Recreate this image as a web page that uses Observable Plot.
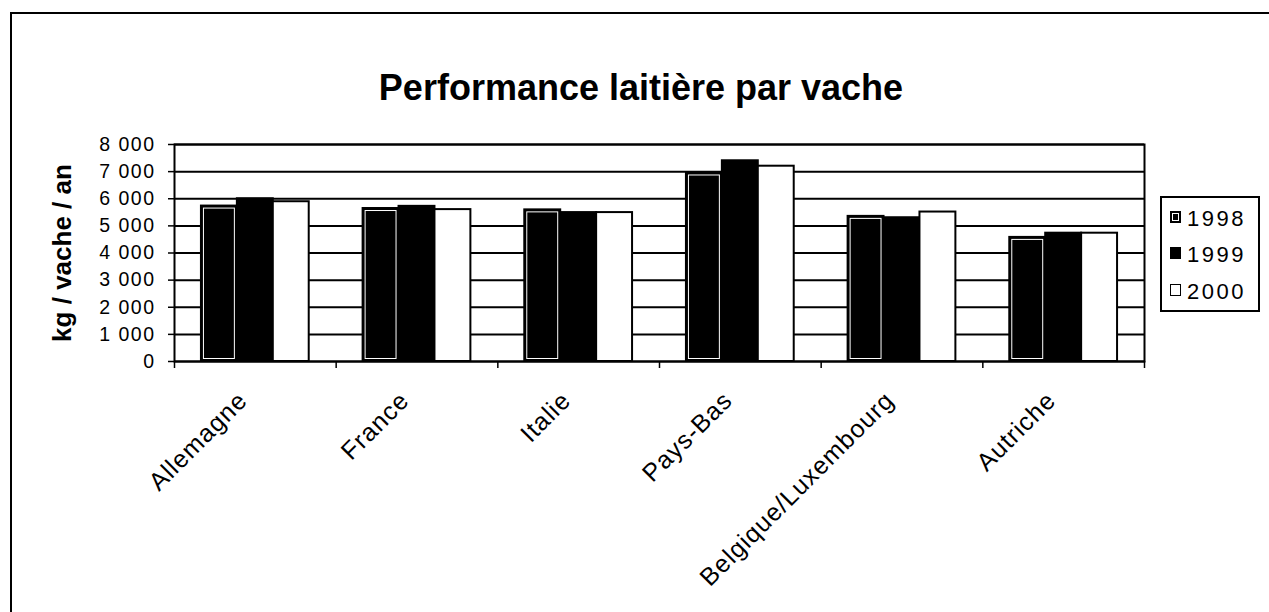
<!DOCTYPE html>
<html>
<head>
<meta charset="utf-8">
<script src="https://cdn.jsdelivr.net/npm/d3@7"></script>
<script src="https://cdn.jsdelivr.net/npm/@observablehq/plot@0.6"></script>
<style>
  html, body { margin: 0; padding: 0; background: #fff; overflow: hidden; }
  #wrap { position: relative; width: 1269px; height: 612px; overflow: hidden;
          font-family: "Liberation Sans", Arial, sans-serif; color: #000; }
  #border { position: absolute; left: 10px; top: 12px; width: 1400px; height: 800px;
            border-left: 2px solid #000; border-top: 2px solid #000; }
  #chart { position: absolute; left: 0; top: 0; }
  #title { position: absolute; left: 0; width: 1282px; top: 70px; text-align: center;
           font-weight: bold; font-size: 36px; line-height: 36px; white-space: nowrap; }
  #legend { position: absolute; left: 1160px; top: 196px; width: 100px; height: 116px;
            border: 2px solid #000; box-sizing: border-box; background: #fff; }
  .lt { position: absolute; left: 25px; font-size: 22px; line-height: 22px; letter-spacing: 2.5px; }
  .sw { position: absolute; box-sizing: border-box; }
</style>
</head>
<body>
<div id="wrap">
  <div id="border"></div>
  <div id="chart"></div>
  <div id="title">Performance laitière par vache</div>
  <div id="legend"></div>
</div>
<script>
// ---- data ----
const countries = ["Allemagne", "France", "Italie", "Pays-Bas", "Belgique/Luxembourg", "Autriche"];
const years = ["1998", "1999", "2000"];
const v1998 = [5730, 5640, 5590, 6950, 5350, 4575];
const v1999 = [6000, 5720, 5490, 7400, 5300, 4730];
const v2000 = [5890, 5600, 5490, 7200, 5510, 4730];
const yTicks = [0, 1000, 2000, 3000, 4000, 5000, 6000, 7000, 8000];
const yLabel = "kg / vache / an";

const series = [v1998, v1999, v2000];
const rows = countries.flatMap((c, i) => years.map((y, j) => ({country: c, i, year: y, j, value: series[j][i]})));

const groupFrac = 2 / 3, barFrac = groupFrac / years.length;
const x1 = d => d.i + (1 - groupFrac) / 2 + d.j * barFrac;
const x2 = d => x1(d) + barFrac;
const fillOf = {"1998": "#000", "1999": "#000", "2000": "#fff"};

const fmt = d3.formatLocale({thousands: " ", grouping: [3], decimal: ","}).format(",");

const svg = Plot.plot({
  width: 1269, height: 612,
  marginLeft: 174, marginRight: 125, marginTop: 144, marginBottom: 251,
  x: {domain: [0, countries.length]},
  y: {domain: [0, 8000]},
  style: {fontFamily: "Liberation Sans, Arial, sans-serif", background: "transparent", color: "#000"},
  marks: [
    Plot.gridY(yTicks, {stroke: "#000", strokeOpacity: 1, strokeWidth: 2}),
    Plot.rectY(rows, {x1, x2, y: "value", fill: d => fillOf[d.year], stroke: "#000", strokeWidth: 2}),
    Plot.rectY(rows.filter(d => d.year === "1998"), {x1, x2, y: "value", fill: "none", stroke: "#fff", strokeWidth: 1, inset: 2.5}),
    Plot.frame({stroke: "#000", strokeWidth: 2}),
    Plot.axisY({ticks: yTicks, tickSize: 6, tickPadding: 13, tickFormat: fmt, fontSize: 19.5, label: null, strokeWidth: 1.5}),
    Plot.axisX({ticks: d3.range(countries.length).map(i => i + 0.5), tickFormat: t => countries[Math.floor(t)],
                tickSize: 0, tickPadding: 28, tickRotate: -45, textAnchor: "end", lineAnchor: "top",
                dx: -19, fontSize: 25, label: null}),
    Plot.axisX({ticks: d3.range(countries.length + 1), tickFormat: () => "", tickSize: 7, label: null, strokeWidth: 1.5}),
    Plot.text([yLabel], {frameAnchor: "left", rotate: -90, dx: -112, fontSize: 26, fontWeight: "bold",
                         textAnchor: "middle", lineAnchor: "middle"})
  ]
});
d3.select(svg).selectAll('g[aria-label="y-axis tick label"] text').attr("letter-spacing", "1.5px");
d3.select(svg).selectAll('g[aria-label="x-axis tick label"] text').attr("letter-spacing", "1px");
document.getElementById("chart").appendChild(svg);

// ---- legend ----
const legend = document.getElementById("legend");
const swStyles = {
  "1998": "background:#000;border:2px solid #000;box-shadow:inset 0 0 0 1px #fff;",
  "1999": "background:#000;",
  "2000": "background:#fff;border:1.5px solid #000;"
};
years.forEach((y, k) => {
  const top = 12 + k * 36.3;
  const sw = document.createElement("div");
  sw.className = "sw";
  sw.style.cssText = `left:8px;top:${top + 1}px;width:11px;height:12px;` + swStyles[y];
  legend.appendChild(sw);
  const t = document.createElement("div");
  t.className = "lt";
  t.style.top = (top - 2) + "px";
  t.textContent = y;
  legend.appendChild(t);
});
</script>
</body>
</html>
